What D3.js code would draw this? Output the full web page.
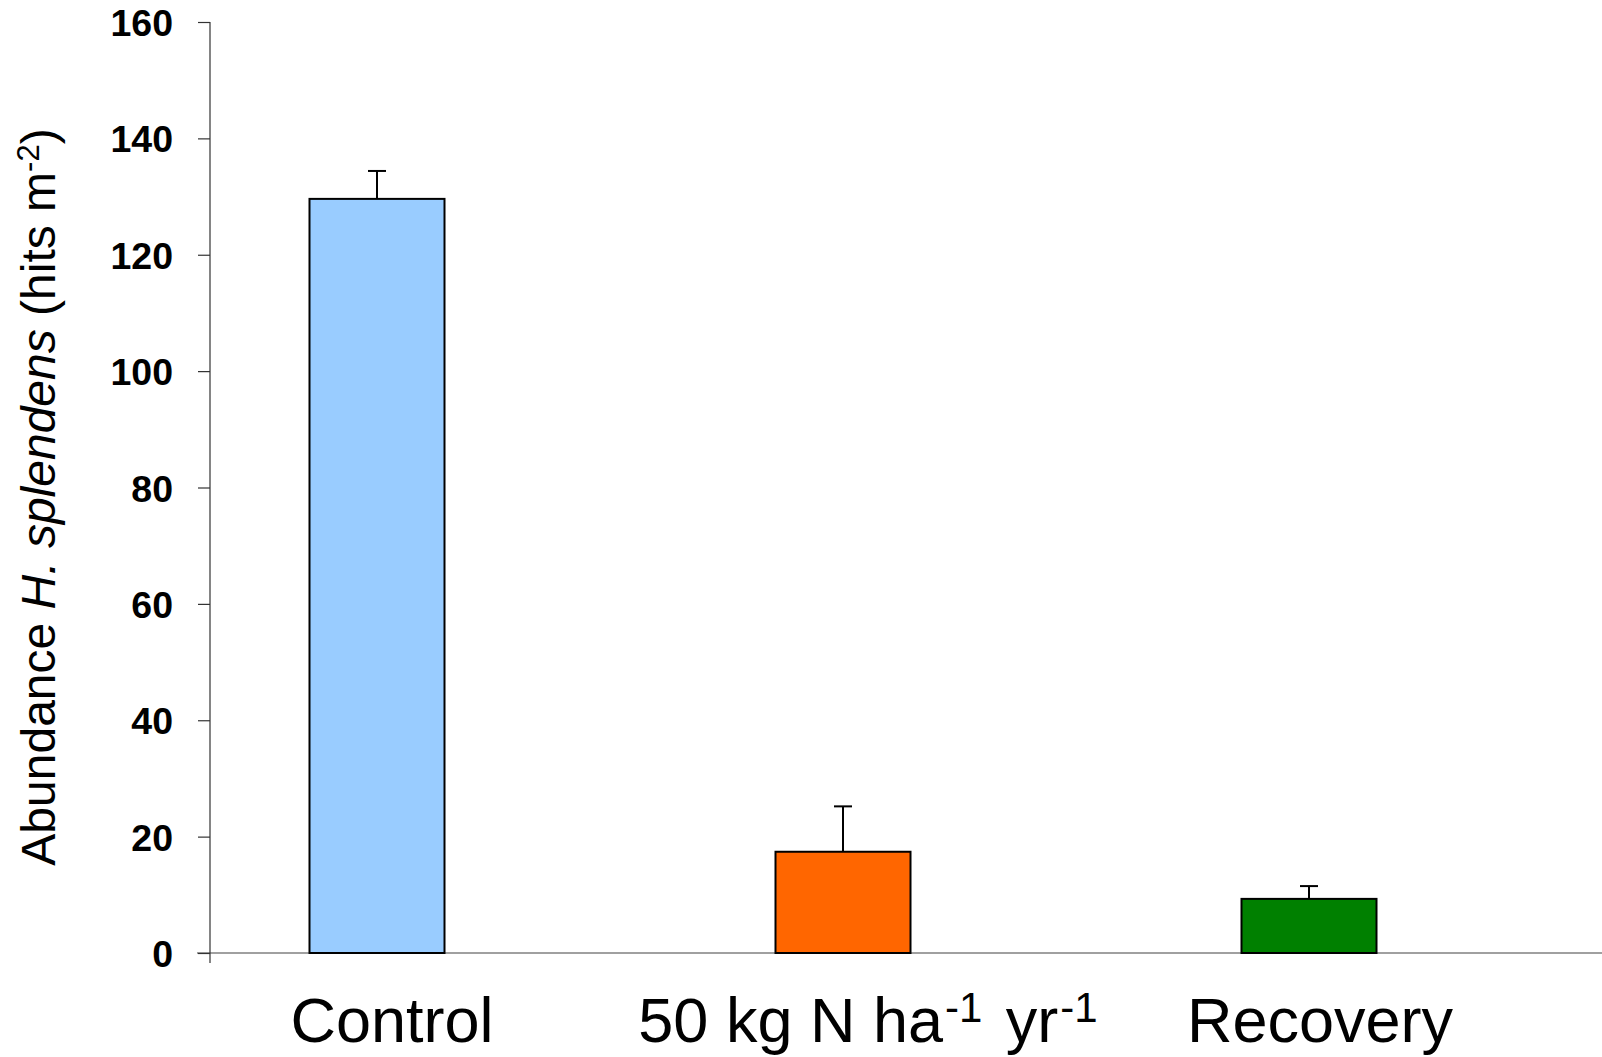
<!DOCTYPE html>
<html>
<head>
<meta charset="utf-8">
<script src="https://cdn.jsdelivr.net/npm/d3@7"></script>
<style>
  body { margin: 0; background: #fff; }
  svg { display: block; font-family: "Liberation Sans", Arial, sans-serif; }
</style>
</head>
<body>
<svg id="chart"></svg>
<script>
var categories = ["Control", "50 kg N", "Recovery"];
var values = [129.6, 17.4, 9.3];
var errors = [4.8, 7.8, 2.2];
var barColors = ["#99ccff", "#ff6600", "#008000"];
var yTicks = [0, 20, 40, 60, 80, 100, 120, 140, 160];

var width = 1602;
var height = 1057;
var axisX = 210;
var yTop = 22;
var yBottom = 953;
var barWidth = 135;
var capWidth = 18;

var svg = d3.select('#chart').attr('width', width).attr('height', height);

var x_scale = d3.scalePoint().domain(categories).range([377, 1309]);
var y_scale = d3.scaleLinear().domain([0, 160]).range([yBottom, yTop]);

// x axis line (grey, runs off to the right edge)
svg.append('line')
  .attr('x1', axisX - 13).attr('x2', width)
  .attr('y1', y_scale(0)).attr('y2', y_scale(0))
  .attr('stroke', '#808080').attr('stroke-width', 1.5);

// y axis
var y_axis = d3.axisLeft(y_scale).tickValues(yTicks).tickSize(12).tickPadding(25);
var yg = svg.append('g').attr('class', 'y-axis')
  .attr('transform', 'translate(' + axisX + ',0)')
  .call(y_axis);
yg.select('.domain').remove();
yg.selectAll('.tick line').attr('stroke', '#333').attr('stroke-width', 1.2);
yg.selectAll('.tick text')
  .attr('font-family', '"Liberation Sans", Arial, sans-serif')
  .attr('font-size', 37.5).attr('font-weight', 'bold').attr('fill', '#000')
  .attr('dy', '0.36em');
yg.append('line')
  .attr('x1', 0).attr('x2', 0)
  .attr('y1', y_scale(160)).attr('y2', y_scale(0) + 10)
  .attr('stroke', '#333').attr('stroke-width', 1.2);

// bars
var data = categories.map(function(c, i) {
  return { cat: c, value: values[i], err: errors[i], color: barColors[i] };
});

svg.selectAll('rect.bar').data(data).enter().append('rect')
  .attr('class', 'bar')
  .attr('x', function(d) { return x_scale(d.cat) - barWidth / 2; })
  .attr('y', function(d) { return y_scale(d.value); })
  .attr('width', barWidth)
  .attr('height', function(d) { return y_scale(0) - y_scale(d.value); })
  .attr('fill', function(d) { return d.color; })
  .attr('stroke', '#000')
  .attr('stroke-width', 2);

// error bars (upper only)
var eg = svg.selectAll('g.err').data(data).enter().append('g').attr('class', 'err');
eg.append('line')
  .attr('x1', function(d) { return x_scale(d.cat); })
  .attr('x2', function(d) { return x_scale(d.cat); })
  .attr('y1', function(d) { return y_scale(d.value); })
  .attr('y2', function(d) { return y_scale(d.value + d.err); })
  .attr('stroke', '#000').attr('stroke-width', 2);
eg.append('line')
  .attr('x1', function(d) { return x_scale(d.cat) - capWidth / 2; })
  .attr('x2', function(d) { return x_scale(d.cat) + capWidth / 2; })
  .attr('y1', function(d) { return y_scale(d.value + d.err); })
  .attr('y2', function(d) { return y_scale(d.value + d.err); })
  .attr('stroke', '#000').attr('stroke-width', 2);

// category labels (slightly right of the bars, as in the original)
var labelDx = [15, 25, 11];
var labels = svg.selectAll('text.cat').data(categories).enter().append('text')
  .attr('class', 'cat')
  .attr('x', function(d, i) { return x_scale(d) + labelDx[i]; })
  .attr('y', 1042)
  .attr('text-anchor', 'middle')
  .attr('font-size', 63)
  .attr('fill', '#000');
labels.each(function(d) {
  var t = d3.select(this);
  if (d === "50 kg N") {
    t.append('tspan').text('50 kg N ha');
    t.append('tspan').text('-1').attr('font-size', 42).attr('dx', 2).attr('dy', -20);
    t.append('tspan').text(' yr').attr('dx', 6).attr('dy', 20);
    t.append('tspan').text('-1').attr('font-size', 42).attr('dx', 2).attr('dy', -20);
  } else {
    t.text(d);
  }
});

// y axis title
var title = svg.append('text')
  .attr('transform', 'translate(55,497) rotate(-90)')
  .attr('text-anchor', 'middle')
  .attr('font-size', 48)
  .attr('fill', '#000');
title.append('tspan').text('Abundance ');
title.append('tspan').text('H. splendens').attr('font-style', 'italic');
title.append('tspan').text(' (hits m');
title.append('tspan').text('-2').attr('font-size', 31).attr('dy', -16);
title.append('tspan').text(')').attr('dy', 16);
</script>
</body>
</html>
